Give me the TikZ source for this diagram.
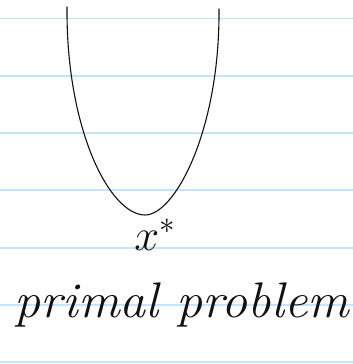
\documentclass[tikz,border=0pt]{standalone}
\definecolor{NoteRule}{HTML}{C6E4F9}
\definecolor{NoteInk}{HTML}{111111}
\usepackage{amsmath,amssymb}
\usetikzlibrary{positioning}

\begin{document}
\begin{tikzpicture}[x=1pt,y=-1pt]
    \useasboundingbox (0,0) rectangle (353,364);
    \fill[white] (0,0) rectangle (353,364);
    \foreach \y in {18.5,75.8,133,190.3,247.6,305,362} {
      \draw[line width=1.8pt,draw=NoteRule] (0,\y) -- (353,\y);
    }
    \coordinate (lefttop) at (67,7);
    \coordinate (xmin) at (145,215);
    \coordinate (righttop) at (219,9);
    \draw[line width=1.1pt,draw=NoteInk,line cap=round]
      (lefttop) .. controls (66,130) and (110,215) .. (xmin)
      .. controls (175,215) and (220,130) .. (righttop);
    \node[text=NoteInk,font=\fontsize{24}{28}\selectfont,anchor=base,inner sep=0pt,
      scale=1.8,transform shape] (xstar) at (155,250) {$x^{*}$};
    \node[text=NoteInk,font=\fontsize{50}{58}\selectfont\itshape,anchor=base,inner sep=0pt,xscale=1.04] (label) at (182,317)
      {primal problem};
  \end{tikzpicture}
\end{document}
